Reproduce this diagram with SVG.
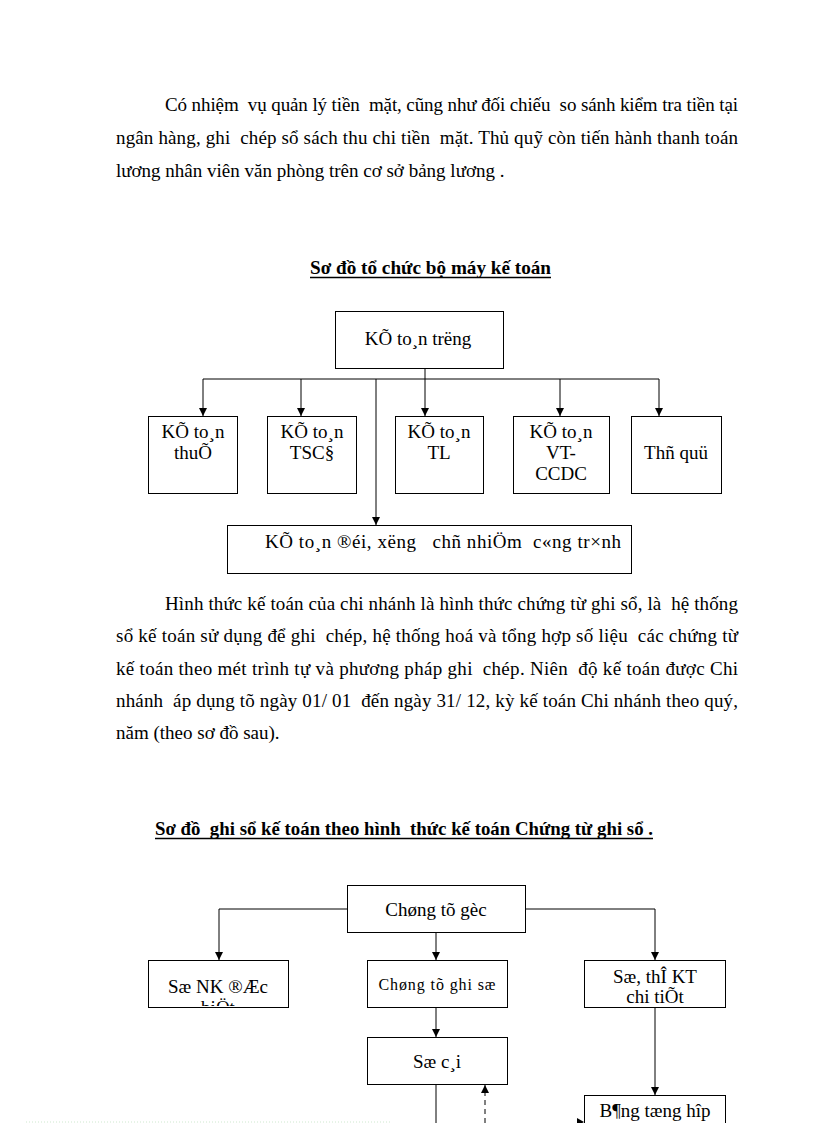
<svg xmlns="http://www.w3.org/2000/svg" width="816" height="1123" viewBox="0 0 816 1123">
<defs>
<style>
.t{font-family:"Liberation Serif","Times New Roman",serif;font-size:19px;fill:#000;white-space:pre}
.h{font-family:"Liberation Serif","Times New Roman",serif;font-size:19px;font-weight:bold;fill:#000;white-space:pre}
.n{font-family:"Liberation Serif","Times New Roman",serif;font-size:19px;fill:#000;text-anchor:middle;white-space:pre}
.s{font-family:"Liberation Serif","Times New Roman",serif;font-size:16px;fill:#000;text-anchor:middle}
.b{fill:#fff;stroke:#000;stroke-width:1}
.c{fill:none;stroke:#000;stroke-width:1}
.d{fill:none;stroke:#000;stroke-width:1;stroke-dasharray:5 4}
.u{stroke:#000;stroke-width:1.3}
</style>
<marker id="ar" markerUnits="userSpaceOnUse" markerWidth="8" markerHeight="8" refX="8" refY="4" orient="auto">
<path d="M0,0 L8,4 L0,8 z" fill="#000"/>
</marker>
<clipPath id="clipNK"><rect x="149" y="961" width="138" height="45"/></clipPath>
</defs>
<rect width="816" height="1123" fill="#fff"/>

<g id="para1" xml:space="preserve">
<text class="t" x="165" y="111" textLength="573" lengthAdjust="spacing">Có nhiệm  vụ quản lý tiền  mặt, cũng như đối chiếu  so sánh kiểm tra tiền tại</text>
<text class="t" x="116" y="144" textLength="622" lengthAdjust="spacing">ngân hàng, ghi  chép sổ sách thu chi tiền  mặt. Thủ quỹ còn tiến hành thanh toán</text>
<text class="t" x="116" y="177">lương nhân viên văn phòng trên cơ sở bảng lương .</text>
</g>

<g id="title1">
<text class="h" x="310" y="274" textLength="241" lengthAdjust="spacingAndGlyphs">Sơ đồ tổ chức bộ máy kế toán</text>
<line class="u" x1="310" y1="277.5" x2="551" y2="277.5"/>
</g>

<g id="connectors1">
<line class="c" x1="425" y1="368" x2="425" y2="416" marker-end="url(#ar)"/>
<line class="c" x1="203" y1="379" x2="659" y2="379"/>
<line class="c" x1="203" y1="379" x2="203" y2="416" marker-end="url(#ar)"/>
<line class="c" x1="301" y1="379" x2="301" y2="416" marker-end="url(#ar)"/>
<line class="c" x1="560" y1="379" x2="560" y2="416" marker-end="url(#ar)"/>
<line class="c" x1="659" y1="379" x2="659" y2="416" marker-end="url(#ar)"/>
<line class="c" x1="376" y1="379" x2="376" y2="525" marker-end="url(#ar)"/>
</g>

<g id="ketoan-truong">
<rect class="b" x="335.5" y="311.5" width="168" height="57"/>
<text class="n" x="418" y="345">KÕ to¸n trëng</text>
</g>
<g id="kt-thue">
<rect class="b" x="148.5" y="416.5" width="89" height="77"/>
<text class="n" x="193" y="438">KÕ to¸n</text>
<text class="n" x="193" y="459">thuÕ</text>
</g>
<g id="kt-tscd">
<rect class="b" x="267.5" y="416.5" width="89" height="77"/>
<text class="n" x="312" y="438">KÕ to¸n</text>
<text class="n" x="312" y="459">TSC§</text>
</g>
<g id="kt-tl">
<rect class="b" x="395.5" y="416.5" width="88" height="77"/>
<text class="n" x="439" y="438">KÕ to¸n</text>
<text class="n" x="439" y="459">TL</text>
</g>
<g id="kt-vt">
<rect class="b" x="513.5" y="416.5" width="96" height="77"/>
<text class="n" x="561" y="438">KÕ to¸n</text>
<text class="n" x="561" y="459">VT-</text>
<text class="n" x="561" y="480">CCDC</text>
</g>
<g id="thu-quy">
<rect class="b" x="631.5" y="416.5" width="90" height="77"/>
<text class="n" x="676" y="459">Thñ quü</text>
</g>
<g id="kt-doi" xml:space="preserve">
<rect class="b" x="227.5" y="525.5" width="404" height="48"/>
<text class="n" x="443" y="548" textLength="356" lengthAdjust="spacing">KÕ to¸n ®éi, xëng   chñ nhiÖm  c«ng tr×nh</text>
</g>

<g id="para2" xml:space="preserve">
<text class="t" x="165" y="610" textLength="573" lengthAdjust="spacing">Hình thức kế toán của chi nhánh là hình thức chứng từ ghi sổ, là  hệ thống</text>
<text class="t" x="116" y="642" textLength="622" lengthAdjust="spacing">sổ kế toán sử dụng để ghi  chép, hệ thống hoá và tổng hợp số liệu  các chứng từ</text>
<text class="t" x="116" y="675" textLength="622" lengthAdjust="spacing">kế toán theo mét trình tự và phương pháp ghi  chép. Niên  độ kế toán được Chi</text>
<text class="t" x="116" y="707" textLength="622" lengthAdjust="spacing">nhánh  áp dụng tõ ngày 01/ 01  đến ngày 31/ 12, kỳ kế toán Chi nhánh theo quý,</text>
<text class="t" x="116" y="739">năm (theo sơ đồ sau).</text>
</g>

<g id="title2">
<text class="h" x="155" y="835" textLength="498" lengthAdjust="spacingAndGlyphs" xml:space="preserve">Sơ đồ  ghi sổ kế toán theo hình  thức kế toán Chứng từ ghi sổ .</text>
<line class="u" x1="155" y1="838.5" x2="653" y2="838.5"/>
</g>

<g id="connectors2">
<polyline class="c" points="347,909 219,909 219,960" marker-end="url(#ar)"/>
<polyline class="c" points="525,909 655,909 655,960" marker-end="url(#ar)"/>
<line class="c" x1="436" y1="933" x2="436" y2="960" marker-end="url(#ar)"/>
<line class="c" x1="436" y1="1008" x2="436" y2="1037" marker-end="url(#ar)"/>
<line class="c" x1="655" y1="1008" x2="655" y2="1095" marker-end="url(#ar)"/>
<line class="c" x1="436" y1="1085" x2="436" y2="1123"/>
<line class="d" x1="485" y1="1123" x2="485" y2="1085" marker-end="url(#ar)"/>
<path d="M577,1118 L584,1122 L577,1126 z" fill="#000"/>
</g>

<g id="chung-tu-goc">
<rect class="b" x="347.5" y="885.5" width="178" height="47"/>
<text class="n" x="436" y="916">Chøng tõ gèc</text>
</g>
<g id="so-nk-dac-biet">
<rect class="b" x="148.5" y="960.5" width="140" height="47"/>
<g clip-path="url(#clipNK)">
<text class="n" x="218" y="993">Sæ NK ®Æc</text>
<text class="n" x="218" y="1014">biÖt</text>
</g>
</g>
<g id="chung-tu-ghi-so">
<rect class="b" x="367.5" y="960.5" width="140" height="47"/>
<text class="s" x="437" y="990" textLength="117" lengthAdjust="spacing">Chøng tõ ghi sæ</text>
</g>
<g id="so-the-kt">
<rect class="b" x="584.5" y="960.5" width="141" height="47"/>
<text class="n" x="655" y="983">Sæ, thÎ KT</text>
<text class="n" x="655" y="1003">chi tiÕt</text>
</g>
<g id="so-cai">
<rect class="b" x="367.5" y="1037.5" width="140" height="47"/>
<text class="n" x="437" y="1068">Sæ c¸i</text>
</g>
<g id="bang-tong-hop">
<rect class="b" x="584.5" y="1095.5" width="141" height="40"/>
<text class="n" x="655" y="1117">B¶ng tæng hîp</text>
</g>

<line x1="26" y1="1122" x2="390" y2="1122" stroke="#cfe8cf" stroke-width="1" stroke-dasharray="1 2"/>
</svg>
